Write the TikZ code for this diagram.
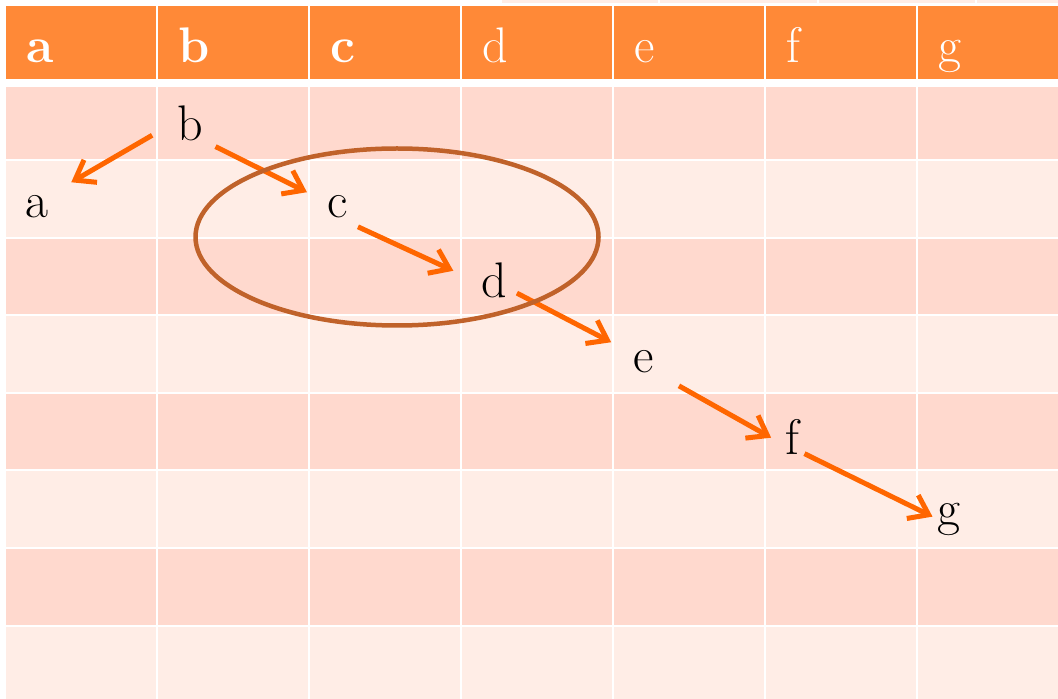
\documentclass[tikz,border=0pt]{standalone}
\usetikzlibrary{positioning,calc,arrows.meta}
\definecolor{headfill}{HTML}{FF8937}
\definecolor{rowdark}{HTML}{FFD9CE}
\definecolor{rowlight}{HTML}{FFEDE6}
\definecolor{arrowc}{HTML}{FF6600}
\definecolor{ringc}{HTML}{C0622A}
\tikzset{
  head/.style={anchor=base west, inner sep=0pt, text=white, font=\fontsize{25}{30}\selectfont},
  headbold/.style={head, font=\fontsize{25}{30}\selectfont\bfseries},
  letter/.style={circle, inner sep=0pt, minimum size=24pt, font=\fontsize{25}{30}\selectfont},
  link/.style={draw=arrowc, line width=2.5pt, -{Straight Barb[length=9pt,width=13pt]}},
  ring/.style={draw=ringc, line width=2.25pt},
  gap/.style={draw=white, line width=1pt},
}
\begin{document}
\begin{tikzpicture}[x=0.5pt,y=-0.5pt]
  \useasboundingbox (0,0) rectangle (1058,699);
  \fill[white] (0,0) rectangle (1058,699);
  \fill[rowlight] (502,0) rectangle (1058,3);
  \fill[headfill] (6,6) rectangle (1058,79);
  \fill[rowdark] (6,87) rectangle (1058,160);
  \fill[rowlight] (6,160) rectangle (1058,238);
  \fill[rowdark] (6,238) rectangle (1058,315);
  \fill[rowlight] (6,315) rectangle (1058,393);
  \fill[rowdark] (6,393) rectangle (1058,470);
  \fill[rowlight] (6,470) rectangle (1058,548);
  \fill[rowdark] (6,548) rectangle (1058,626);
  \fill[rowlight] (6,626) rectangle (1058,699);

  \draw[gap] (6,160) -- (1058,160);
  \draw[gap] (6,238) -- (1058,238);
  \draw[gap] (6,315) -- (1058,315);
  \draw[gap] (6,393) -- (1058,393);
  \draw[gap] (6,470) -- (1058,470);
  \draw[gap] (6,548) -- (1058,548);
  \draw[gap] (6,626) -- (1058,626);
  \draw[gap] (157,6) -- (157,699);
  \draw[gap] (309,6) -- (309,699);
  \draw[gap] (461,6) -- (461,699);
  \draw[gap] (613,6) -- (613,699);
  \draw[gap] (765,6) -- (765,699);
  \draw[gap] (917,6) -- (917,699);
  \draw[gap] (658.5,0) -- (658.5,4);
  \draw[gap] (817.5,0) -- (817.5,4);
  \draw[gap] (975.5,0) -- (975.5,4);

  \node[headbold] (h1) at (26,63) {a};
  \node[headbold] (h2) at (178,63) {b};
  \node[headbold] (h3) at (330,63) {c};
  \node[head] (h4) at (482,63) {d};
  \node[head] (h5) at (634,63) {e};
  \node[head] (h6) at (786,63) {f};
  \node[head] (h7) at (938,63) {g};

  \node[letter] (b) at (190,123) {b};
  \node[letter] at ($(b) + (-153,84)$) (a) {a};
  \node[letter] at ($(b) + (148,84)$) (c) {c};
  \node[letter] at ($(c) + (156,73)$) (d) {d};
  \node[letter] at ($(d) + (150,82)$) (e) {e};
  \node[letter] at ($(e) + (148,75)$) (f) {f};
  \node[letter] at ($(f) + (157,82)$) (g) {g};

  \draw[link, shorten <=8pt, shorten >=9pt] (b.190) -- (a.40);
  \draw[link, shorten <=5.5pt, shorten >=5pt] (b.-50) -- (c.155);
  \draw[link, shorten <=2pt, shorten >=9pt] (c.-48) -- (d.176);
  \draw[link, shorten <=1pt, shorten >=7pt] (d.-30) -- (e.147);
  \draw[link, shorten <=9pt, shorten >=-2pt] (e.-38) -- (f.177);
  \draw[link, shorten <=-2pt, shorten >=-4pt] (f.-49) -- (g.166);

  \draw[ring] (397,237) ellipse [x radius=100.75pt, y radius=44.25pt];
\end{tikzpicture}
\end{document}
